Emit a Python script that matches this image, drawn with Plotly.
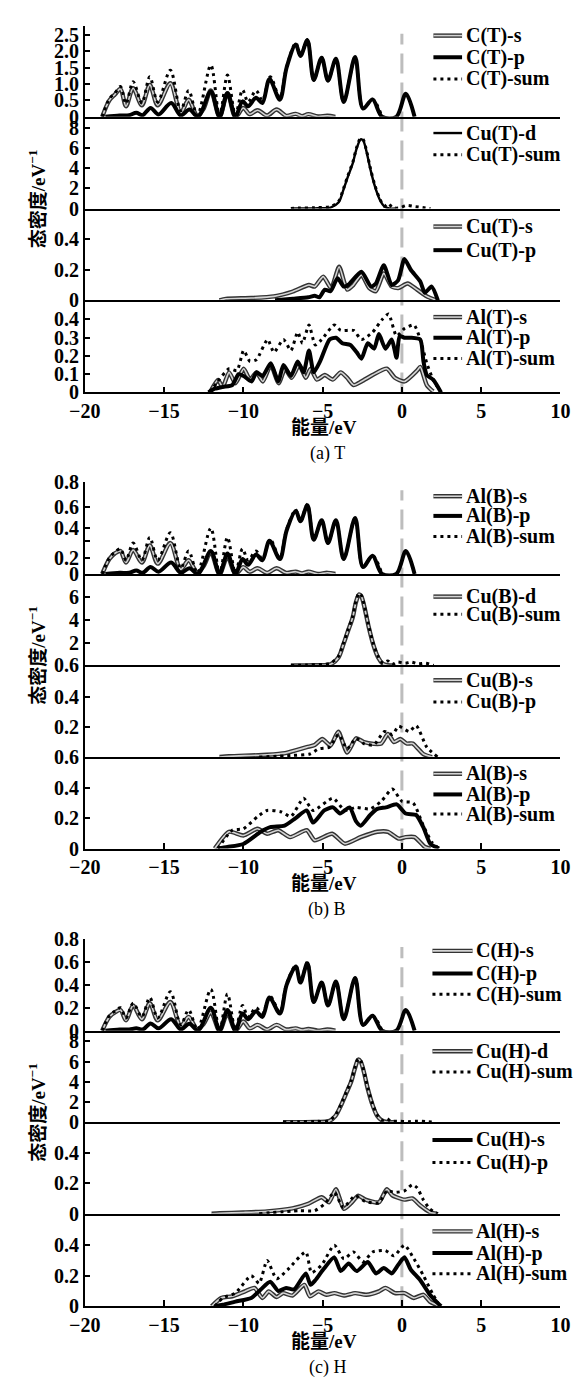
import plotly.graph_objects as go

# ---------------- DATA (energy in eV, DOS in 1/eV) ----------------
# (a) T
CT_s_x = [-18.9, -18.45, -18.1, -17.75, -17.4, -16.95, -16.4, -15.9, -15.4, -14.6, -13.95, -13.45, -12.9, -12.5, -12.05, -11.5, -11.0, -10.5, -10.0, -9.6, -9.1, -8.5, -7.9, -7.3, -6.7, -6.3, -5.9, -5.3, -4.7, -4.2]
CT_s_y = [0, 0.5, 0.68, 0.85, 0.32, 0.87, 0.35, 0.97, 0.35, 1.02, 0.12, 0.52, 0.02, 0.25, 0.8, 0.0, 0.72, 0.0, 0.27, 0.08, 0.2, 0.04, 0.22, 0.03, 0.09, 0.02, 0.08, 0.01, 0.03, 0]
CT_p_x = [-18.7, -17.8, -17.2, -16.75, -16.35, -15.85, -15.35, -14.55, -13.95, -13.4, -12.85, -12.05, -11.5, -11.0, -10.5, -10.05, -9.7, -9.2, -8.8, -8.35, -7.7, -7.27, -6.69, -6.4, -5.96, -5.56, -5.06, -4.66, -4.16, -3.67, -2.95, -2.45, -1.85, -1.25, -0.35, 0.25, 0.8]
CT_p_y = [0, 0.04, 0.05, 0.12, 0.05, 0.27, 0.07, 0.42, 0.04, 0.22, 0.0, 0.77, 0.0, 0.72, 0.0, 0.47, 0.32, 0.58, 0.42, 1.15, 0.52, 1.5, 2.2, 1.85, 2.33, 1.12, 1.8, 1.1, 1.77, 0.45, 1.82, 0.25, 0.53, 0.0, 0.0, 0.7, 0.0]
CT_sum_x = [-18.9, -18.45, -18.1, -17.75, -17.4, -16.95, -16.4, -15.9, -15.4, -14.6, -13.95, -13.45, -12.9, -12.05, -11.5, -11.0, -10.5, -10.05, -9.7, -9.2, -8.8, -8.3, -7.7, -7.27, -6.69, -6.4, -5.96, -5.56, -5.06, -4.66, -4.16, -3.67, -2.95, -2.45, -1.85, -1.25]
CT_sum_y = [0, 0.55, 0.72, 0.92, 0.4, 1.07, 0.42, 1.22, 0.45, 1.42, 0.18, 0.8, 0.04, 1.57, 0.02, 1.27, 0.05, 0.82, 0.45, 0.8, 0.5, 1.22, 0.58, 1.52, 2.25, 1.85, 2.35, 1.12, 1.8, 1.1, 1.77, 0.45, 1.82, 0.25, 0.53, 0]

CuT_d_x = [-7.0, -5.5, -4.5, -4.0, -3.7, -3.4, -3.1, -2.85, -2.6, -2.45, -2.25, -2.0, -1.7, -1.4, -1.1, -0.8, -0.4]
CuT_d_y = [0, 0.02, 0.1, 0.6, 1.8, 3.2, 4.5, 6.0, 6.9, 6.8, 5.8, 4.0, 2.2, 0.9, 0.2, 0.02, 0]
CuT_sum_x = [-7.0, -6.5, -5.5, -4.5, -4.0, -3.7, -3.4, -3.1, -2.85, -2.6, -2.45, -2.25, -2.0, -1.7, -1.4, -1.1, -0.85, -0.6, -0.2, 0.3, 0.8, 1.3, 1.8]
CuT_sum_y = [0, 0.05, 0.08, 0.2, 0.7, 1.9, 3.3, 4.6, 6.1, 7.0, 6.9, 5.9, 4.1, 2.3, 1.0, 0.25, 0.5, 0.1, 0.05, 0.3, 0.2, 0.1, 0]

CuT_s_x = [-11.5, -11.1, -9.5, -8.07, -6.87, -5.86, -5.5, -4.96, -4.46, -3.96, -3.45, -3.07, -2.55, -2.05, -1.64, -1.14, -0.64, -0.24, 0.36, 0.96, 1.57, 2.17]
CuT_s_y = [0, 0.01, 0.015, 0.026, 0.058, 0.10, 0.09, 0.155, 0.08, 0.22, 0.07, 0.10, 0.166, 0.08, 0.06, 0.176, 0.09, 0.08, 0.11, 0.07, 0.026, 0]
CuT_p_x = [-8.0, -6.87, -5.9, -5.5, -5.2, -4.86, -4.5, -4.06, -3.66, -3.4, -2.55, -1.95, -1.64, -1.14, -0.64, -0.24, 0.16, 0.56, 1.16, 1.45, 1.87, 2.27]
CuT_p_y = [0, 0.01, 0.02, 0.03, 0.02, 0.07, 0.06, 0.144, 0.09, 0.10, 0.187, 0.09, 0.11, 0.23, 0.10, 0.13, 0.27, 0.2, 0.123, 0.05, 0.09, 0]

AlT_s_x = [-12.1, -11.6, -11.3, -10.9, -10.5, -9.98, -9.58, -9.17, -8.77, -8.27, -7.77, -7.37, -6.96, -6.47, -6.06, -5.76, -5.36, -4.86, -4.36, -3.86, -3.45, -3.05, -2.55, -1.85, -0.95, -0.44, 0.16, 0.96, 1.16, 1.57, 1.97]
AlT_s_y = [0, 0.068, 0.03, 0.11, 0.05, 0.13, 0.07, 0.11, 0.06, 0.15, 0.05, 0.13, 0.08, 0.15, 0.08, 0.13, 0.07, 0.095, 0.07, 0.11, 0.08, 0.04, 0.06, 0.095, 0.13, 0.08, 0.06, 0.12, 0.14, 0.04, 0.005]
AlT_p_x = [-12.2, -11.8, -11.3, -10.7, -10.3, -9.98, -9.48, -9.17, -8.78, -8.27, -7.8, -7.47, -7.0, -6.57, -6.2, -5.86, -5.56, -5.16, -4.56, -4.16, -3.76, -3.25, -2.85, -2.55, -2.15, -1.75, -1.45, -1.04, -0.64, -0.34, -0.14, 0.16, 0.56, 1.16, 1.36, 1.57, 1.97, 2.47]
AlT_p_y = [0, 0.02, 0.03, 0.04, 0.1, 0.09, 0.06, 0.11, 0.09, 0.16, 0.06, 0.15, 0.09, 0.17, 0.11, 0.23, 0.11, 0.17, 0.29, 0.30, 0.27, 0.26, 0.22, 0.185, 0.27, 0.24, 0.32, 0.24, 0.29, 0.19, 0.31, 0.30, 0.30, 0.29, 0.17, 0.095, 0.07, 0]
AlT_sum_x = [-12.1, -11.7, -10.9, -10.4, -9.98, -9.58, -9.17, -8.47, -8.07, -7.47, -7.0, -6.57, -6.27, -5.86, -5.46, -5.06, -4.26, -3.86, -3.05, -2.55, -1.85, -1.24, -0.84, -0.34, 0.16, 0.76, 1.16, 1.57, 1.97, 2.47]
AlT_sum_y = [0, 0.05, 0.13, 0.12, 0.23, 0.17, 0.18, 0.29, 0.22, 0.29, 0.23, 0.33, 0.27, 0.37, 0.26, 0.29, 0.37, 0.34, 0.34, 0.29, 0.33, 0.40, 0.43, 0.31, 0.35, 0.37, 0.29, 0.16, 0.07, 0]

# (b) B
AlB1_s_x = CT_s_x
AlB1_s_y = [0, 0.13, 0.18, 0.2, 0.1, 0.21, 0.1, 0.25, 0.09, 0.27, 0.04, 0.12, 0.01, 0.07, 0.19, 0.0, 0.15, 0.0, 0.06, 0.02, 0.05, 0.01, 0.05, 0.01, 0.02, 0.005, 0.02, 0.0, 0.01, 0]
AlB1_p_x = CT_p_x
AlB1_p_y = [0, 0.01, 0.01, 0.03, 0.01, 0.06, 0.02, 0.1, 0.01, 0.05, 0.0, 0.2, 0.0, 0.18, 0.0, 0.13, 0.08, 0.17, 0.12, 0.29, 0.13, 0.38, 0.55, 0.46, 0.6, 0.3, 0.47, 0.27, 0.47, 0.13, 0.49, 0.06, 0.16, 0.0, 0.0, 0.2, 0.0]
AlB1_sum_x = CT_sum_x
AlB1_sum_y = [0, 0.14, 0.19, 0.22, 0.12, 0.27, 0.12, 0.32, 0.12, 0.36, 0.05, 0.2, 0.01, 0.4, 0.0, 0.32, 0.01, 0.22, 0.12, 0.2, 0.13, 0.3, 0.14, 0.39, 0.56, 0.46, 0.61, 0.3, 0.47, 0.27, 0.47, 0.13, 0.49, 0.06, 0.16, 0]

CuB_d_x = [-7.0, -5.5, -4.5, -4.0, -3.7, -3.4, -3.1, -2.9, -2.7, -2.55, -2.35, -2.1, -1.8, -1.5, -1.2, -0.9, -0.5]
CuB_d_y = [0, 0.02, 0.1, 0.7, 1.8, 3.0, 4.2, 5.5, 6.2, 6.0, 5.0, 3.4, 1.8, 0.7, 0.15, 0.02, 0]
CuB_sum_x = [-7.0, -6.0, -5.0, -4.5, -4.0, -3.7, -3.4, -3.1, -2.9, -2.7, -2.55, -2.35, -2.1, -1.8, -1.5, -1.2, -0.9, -0.6, -0.3, 0.2, 0.6, 1.0, 1.5, 2.0]
CuB_sum_y = [0, 0.05, 0.1, 0.2, 0.8, 1.9, 3.1, 4.3, 5.6, 6.3, 6.1, 5.1, 3.5, 1.9, 0.8, 0.2, 0.4, 0.1, 0.3, 0.2, 0.3, 0.15, 0.2, 0]

CuB_s_x = [-11.5, -10.9, -8.5, -7.36, -6.0, -5.5, -5.02, -4.5, -4.01, -3.45, -2.89, -2.4, -1.78, -1.3, -0.88, -0.5, -0.1, 0.3, 0.68, 1.35, 1.9]
CuB_s_y = [0, 0.005, 0.015, 0.026, 0.066, 0.08, 0.12, 0.077, 0.168, 0.03, 0.125, 0.1, 0.088, 0.09, 0.153, 0.1, 0.12, 0.09, 0.09, 0.02, 0]
CuB_p_x = [-9.0, -7.0, -5.8, -5.24, -4.57, -4.0, -3.45, -2.89, -2.4, -1.78, -1.1, -0.6, -0.2, 0.46, 0.9, 1.57, 2.25]
CuB_p_y = [0, 0.01, 0.02, 0.055, 0.066, 0.15, 0.055, 0.125, 0.09, 0.08, 0.17, 0.15, 0.205, 0.17, 0.21, 0.066, 0]

AlB_s_x = [-11.8, -10.9, -10.0, -9.1, -8.5, -7.8, -7.05, -6.0, -5.5, -4.4, -3.6, -2.6, -1.55, -0.88, -0.2, 0.24, 0.8, 1.46, 1.8]
AlB_s_y = [0, 0.11, 0.086, 0.13, 0.097, 0.12, 0.075, 0.12, 0.054, 0.097, 0.032, 0.075, 0.11, 0.11, 0.065, 0.075, 0.075, 0.01, 0]
AlB_p_x = [-11.6, -11.0, -10.0, -8.9, -8.3, -7.4, -6.7, -6.0, -5.6, -4.9, -4.35, -3.9, -3.3, -2.9, -2.6, -2.0, -1.55, -1.0, -0.33, 0.24, 0.9, 1.35, 1.8, 2.35]
AlB_p_y = [0, 0.01, 0.03, 0.11, 0.14, 0.15, 0.2, 0.25, 0.17, 0.25, 0.27, 0.23, 0.27, 0.18, 0.15, 0.22, 0.26, 0.27, 0.29, 0.23, 0.22, 0.14, 0.03, 0]
AlB_sum_x = [-11.6, -10.7, -10.0, -9.1, -8.5, -7.6, -7.0, -6.2, -5.6, -4.35, -3.6, -2.9, -2.0, -1.3, -0.6, 0.0, 0.7, 1.35, 1.9, 2.35]
AlB_sum_y = [0, 0.12, 0.13, 0.21, 0.25, 0.24, 0.21, 0.33, 0.25, 0.33, 0.25, 0.27, 0.26, 0.31, 0.39, 0.31, 0.3, 0.15, 0.04, 0]

# (c) H
CH_s_x = CT_s_x
CH_s_y = [0, 0.12, 0.16, 0.18, 0.09, 0.22, 0.1, 0.24, 0.09, 0.25, 0.04, 0.12, 0.01, 0.06, 0.16, 0.0, 0.15, 0.0, 0.08, 0.02, 0.05, 0.01, 0.05, 0.01, 0.02, 0.005, 0.015, 0.0, 0.01, 0]
CH_p_x = CT_p_x
CH_p_y = [0, 0.01, 0.01, 0.02, 0.01, 0.063, 0.02, 0.1, 0.01, 0.06, 0.0, 0.2, 0.0, 0.18, 0.0, 0.15, 0.1, 0.17, 0.12, 0.29, 0.15, 0.4, 0.56, 0.42, 0.59, 0.25, 0.42, 0.22, 0.43, 0.1, 0.46, 0.05, 0.13, 0.0, 0.0, 0.18, 0.0]
CH_sum_x = CT_sum_x
CH_sum_y = [0, 0.13, 0.17, 0.2, 0.11, 0.24, 0.12, 0.29, 0.11, 0.34, 0.05, 0.18, 0.01, 0.36, 0.0, 0.32, 0.01, 0.22, 0.12, 0.2, 0.15, 0.3, 0.16, 0.41, 0.57, 0.42, 0.6, 0.25, 0.42, 0.22, 0.43, 0.1, 0.46, 0.05, 0.13, 0]

CuH_d_x = [-7.5, -5.5, -4.6, -4.2, -3.8, -3.5, -3.2, -2.95, -2.75, -2.6, -2.4, -2.15, -1.85, -1.55, -1.25, -0.95, -0.5]
CuH_d_y = [0, 0.02, 0.1, 0.6, 1.8, 2.9, 4.0, 5.4, 6.2, 6.0, 5.0, 3.3, 1.7, 0.6, 0.15, 0.02, 0]
CuH_sum_x = [-7.5, -6.5, -5.5, -4.6, -4.2, -3.8, -3.5, -3.2, -2.95, -2.75, -2.6, -2.4, -2.15, -1.85, -1.55, -1.25, -0.95, -0.7, -0.3, 0.4, 1.0, 1.6, 2.0]
CuH_sum_y = [0, 0.05, 0.08, 0.15, 0.7, 1.9, 3.0, 4.1, 5.5, 6.3, 6.1, 5.1, 3.4, 1.8, 0.7, 0.2, 0.35, 0.1, 0.1, 0.05, 0.1, 0.05, 0]

CuH_s_x = [-12.0, -11.5, -10.0, -8.5, -6.9, -5.9, -5.06, -4.6, -4.16, -3.66, -3.2, -2.75, -2.3, -1.45, -0.95, -0.6, -0.34, 0.16, 0.66, 1.16, 1.77, 2.2]
CuH_s_y = [0, 0.003, 0.008, 0.015, 0.035, 0.065, 0.108, 0.075, 0.16, 0.032, 0.07, 0.118, 0.092, 0.075, 0.16, 0.12, 0.108, 0.092, 0.1, 0.054, 0.01, 0]
CuH_p_x = [-9.0, -6.5, -5.5, -4.86, -4.26, -3.7, -2.95, -2.3, -1.45, -0.95, -0.44, 0.16, 0.66, 0.96, 1.36, 1.77, 2.27]
CuH_p_y = [0, 0.02, 0.02, 0.065, 0.14, 0.04, 0.118, 0.08, 0.07, 0.15, 0.14, 0.15, 0.19, 0.17, 0.09, 0.03, 0]

AlH_s_x = [-12.0, -11.4, -10.7, -9.9, -9.3, -8.8, -8.4, -7.9, -7.5, -6.9, -6.15, -5.8, -5.26, -4.76, -4.26, -3.66, -2.95, -2.25, -1.45, -1.04, -0.44, 0.16, 0.76, 1.36, 1.77, 2.17, 2.4]
AlH_s_y = [0, 0.054, 0.065, 0.097, 0.12, 0.054, 0.097, 0.06, 0.086, 0.07, 0.14, 0.065, 0.097, 0.075, 0.086, 0.07, 0.086, 0.075, 0.097, 0.12, 0.086, 0.086, 0.054, 0.075, 0.03, 0.01, 0]
AlH_p_x = [-11.8, -11.3, -10.5, -9.5, -8.9, -8.3, -7.8, -7.3, -6.8, -6.06, -5.76, -5.46, -4.96, -4.26, -3.86, -3.36, -2.85, -2.15, -1.64, -1.14, -0.64, -0.24, 0.16, 0.56, 1.16, 1.77, 2.17, 2.47]
AlH_p_y = [0, 0.01, 0.03, 0.054, 0.11, 0.16, 0.1, 0.12, 0.11, 0.215, 0.14, 0.17, 0.24, 0.32, 0.23, 0.28, 0.23, 0.29, 0.215, 0.25, 0.215, 0.27, 0.32, 0.24, 0.17, 0.075, 0.03, 0]
AlH_sum_x = [-11.8, -11.3, -10.5, -9.5, -9.0, -8.5, -7.9, -7.2, -6.06, -5.7, -5.06, -4.26, -3.66, -3.05, -2.45, -1.85, -1.04, -0.5, 0.16, 0.76, 1.36, 1.97, 2.4]
AlH_sum_y = [0, 0.054, 0.086, 0.2, 0.15, 0.3, 0.18, 0.24, 0.355, 0.22, 0.27, 0.40, 0.31, 0.355, 0.29, 0.355, 0.365, 0.33, 0.40, 0.31, 0.2, 0.075, 0]

X_TICKS = [-20, -15, -10, -5, 0, 5, 10]
X_TICK_TEXT = ["\u221220", "\u221215", "\u221210", "\u22125", "0", "5", "10"]

# panel y-axes: range max, tick values, tick texts
Y_MAX = [2.77, 9.14, 0.60, 0.505, 0.8, 7.98, 0.61, 0.60, 0.8, 9.07, 0.60, 0.606]
Y_TV = [[0, 0.5, 1, 1.5, 2, 2.5, 2.77], [0, 2, 4, 6, 8], [0, 0.2, 0.4], [0, 0.1, 0.2, 0.3, 0.4],
        [0, 0.138, 0.292, 0.404, 0.585, 0.8], [0, 2, 4, 6], [0, 0.2, 0.4], [0, 0.2, 0.4],
        [0, 0.2, 0.4, 0.6, 0.8], [0, 2, 4, 6, 8], [0, 0.2, 0.4], [0, 0.2, 0.4]]
Y_TT = [["0", "0.5", "1.0", "1.5", "2.0", "2.5", " "], ["0", "2", "4", "6", "8"], ["0", "0.2", "0.4"], ["0", "0.1", "0.2", "0.3", "0.4"],
        ["0", "0.2", " ", "0.4", "0.6", "0.8"], ["0.6", "2", "4", "6"], ["0.6", "0.2", "0.4"], ["0", "0.2", "0.4"],
        ["0", "0.2", "0.4", "0.6", "0.8"], ["0", "2", "4", "6", "8"], ["0", "0.2", "0.4"], ["0", "0.2", "0.4"]]

SERIES = [
    (0, CT_s_x, CT_s_y, "outline"), (0, CT_p_x, CT_p_y, "thick"), (0, CT_sum_x, CT_sum_y, "dot"),
    (1, CuT_d_x, CuT_d_y, "thin"), (1, CuT_sum_x, CuT_sum_y, "dot"),
    (2, CuT_s_x, CuT_s_y, "outline"), (2, CuT_p_x, CuT_p_y, "thick"),
    (3, AlT_s_x, AlT_s_y, "outline"), (3, AlT_p_x, AlT_p_y, "thick"), (3, AlT_sum_x, AlT_sum_y, "dot"),
    (4, AlB1_s_x, AlB1_s_y, "outline"), (4, AlB1_p_x, AlB1_p_y, "thick"), (4, AlB1_sum_x, AlB1_sum_y, "dot"),
    (5, CuB_d_x, CuB_d_y, "outline"), (5, CuB_sum_x, CuB_sum_y, "dot"),
    (6, CuB_s_x, CuB_s_y, "outline"), (6, CuB_p_x, CuB_p_y, "dot"),
    (7, AlB_s_x, AlB_s_y, "outline"), (7, AlB_p_x, AlB_p_y, "thick"), (7, AlB_sum_x, AlB_sum_y, "dot"),
    (8, CH_s_x, CH_s_y, "outline"), (8, CH_p_x, CH_p_y, "thick"), (8, CH_sum_x, CH_sum_y, "dot"),
    (9, CuH_d_x, CuH_d_y, "outline"), (9, CuH_sum_x, CuH_sum_y, "dot"),
    (10, CuH_s_x, CuH_s_y, "outline"), (10, CuH_p_x, CuH_p_y, "dot"),
    (11, AlH_s_x, AlH_s_y, "outline"), (11, AlH_p_x, AlH_p_y, "thick"), (11, AlH_sum_x, AlH_sum_y, "dot"),
]

LEGENDS = [
    (["C(T)-s", "C(T)-p", "C(T)-sum"], ["outline", "thick", "dot"]),
    (["Cu(T)-d", "Cu(T)-sum"], ["thin", "dot"]),
    (["Cu(T)-s", "Cu(T)-p"], ["outline", "thick"]),
    (["Al(T)-s", "Al(T)-p", "Al(T)-sum"], ["outline", "thick", "dot"]),
    (["Al(B)-s", "Al(B)-p", "Al(B)-sum"], ["outline", "thick", "dot"]),
    (["Cu(B)-d", "Cu(B)-sum"], ["outline", "dot"]),
    (["Cu(B)-s", "Cu(B)-p"], ["outline", "dot"]),
    (["Al(B)-s", "Al(B)-p", "Al(B)-sum"], ["outline", "thick", "dot"]),
    (["C(H)-s", "C(H)-p", "C(H)-sum"], ["outline", "thick", "dot"]),
    (["Cu(H)-d", "Cu(H)-sum"], ["outline", "dot"]),
    (["Cu(H)-s", "Cu(H)-p"], ["thick", "dot"]),
    (["Al(H)-s", "Al(H)-p", "Al(H)-sum"], ["outline", "thick", "dot"]),
]
CAPTIONS = ["(a) T", "(b) B", "(c) H"]

# ---------------- LAYOUT GEOMETRY (pixels) ----------------
W, H = 580, 1393
PX_L, PX_R = 72, 570
PANEL_TOP = [15, 107.5, 200.7, 294, 479, 572, 665, 758, 943, 1036, 1129, 1222]
PANEL_BOT = [107.5, 200.7, 294, 387.5, 572, 665, 758, 851, 1036, 1129, 1222, 1316]
LEG_Y = [[25, 47, 69], [124, 146], [219, 243], [311, 332, 353],
         [493, 513, 534], [595, 613], [680, 702], [775, 796, 816],
         [955, 978, 999], [1057, 1078], [1147, 1170], [1240, 1262, 1283]]
SERIF = "Liberation Serif, Noto Sans CJK SC"
FS = 20

def px(x):
    return x / W

def py(y):
    return 1 - y / H

fig = go.Figure()

STY = {
    "thick": [dict(color="black", width=4)],
    "thin": [dict(color="black", width=2.4)],
    "dot": [dict(color="black", width=3, dash="3px,4px")],
    "outline": [dict(color="#333333", width=4.4), dict(color="#d4d4d4", width=1.6)],
}

for k, x, y, st in SERIES:
    smooth = 0.9 if k in (0, 4, 8, 1, 5, 9) else 0.6
    for ln in STY[st]:
        l = dict(ln)
        l["shape"] = "spline"
        l["smoothing"] = smooth
        fig.add_trace(go.Scatter(x=x, y=y, mode="lines", line=l, showlegend=False,
                                 hoverinfo="skip",
                                 xaxis="x" if k == 0 else f"x{k+1}",
                                 yaxis="y" if k == 0 else f"y{k+1}"))

layout = dict(width=W, height=H, margin=dict(l=0, r=0, t=0, b=0),
              paper_bgcolor="white", plot_bgcolor="white", showlegend=False)
tickfont = dict(family=SERIF, size=FS, color="black", weight="bold")
for k in range(12):
    bottom = (k % 4 == 3)
    xa = dict(domain=[px(PX_L), px(PX_R)], range=[-20, 10], anchor=f"y{k+1}",
              showline=True, linecolor="black", linewidth=1.5, showgrid=False, zeroline=False,
              tickvals=X_TICKS, ticktext=X_TICK_TEXT, ticks="inside" if bottom else "",
              ticklen=6, tickwidth=1.5, tickcolor="black", showticklabels=bottom, tickfont=tickfont)
    ya = dict(domain=[py(PANEL_BOT[k]), py(PANEL_TOP[k])], range=[0, Y_MAX[k]], anchor=f"x{k+1}",
              showline=True, linecolor="black", linewidth=1.5, showgrid=False, zeroline=False,
              tickvals=Y_TV[k], ticktext=Y_TT[k], ticks="inside", ticklen=5, tickwidth=1.5,
              tickcolor="black", tickfont=tickfont)
    layout["xaxis" if k == 0 else f"xaxis{k+1}"] = xa
    layout["yaxis" if k == 0 else f"yaxis{k+1}"] = ya
fig.update_layout(**layout)

shapes = []
annotations = []
for g in range(3):
    # Fermi level dashed line
    shapes.append(dict(type="line", xref=f"x{4*g+4}", yref="paper", x0=0, x1=0,
                       y0=py(PANEL_BOT[4*g+3]), y1=py(PANEL_TOP[4*g] + 8),
                       line=dict(color="#bdbdbd", width=3, dash="20px,9px"), layer="below"))
    zero = PANEL_BOT[4*g+3]
    annotations.append(dict(text="能量/eV", x=px(322), y=py(zero + 36), xref="paper", yref="paper",
                            xanchor="center", yanchor="middle",
                            showarrow=False, font=dict(family=SERIF, size=FS - 1, color="black", weight="bold")))
    annotations.append(dict(text=CAPTIONS[g], x=px(326), y=py(zero + 62), xref="paper", yref="paper",
                            xanchor="center", yanchor="middle",
                            showarrow=False, font=dict(family=SERIF, size=FS - 2, color="black")))
    mid = (PANEL_TOP[4*g] + PANEL_BOT[4*g+3]) / 2
    annotations.append(dict(text="态密度/eV<sup>\u22121</sup>", x=px(22), y=py(mid - 10), xref="paper", yref="paper",
                            xanchor="center", yanchor="middle",
                            textangle=-90, showarrow=False,
                            font=dict(family=SERIF, size=FS - 1, color="black", weight="bold")))

for k, (labels, styles) in enumerate(LEGENDS):
    grp_c = k >= 8
    tx = 480 if grp_c else 469
    sx0, sx1 = (436, 478) if grp_c else (437, 467)
    for lab, st, yy in zip(labels, styles, LEG_Y[k]):
        for ln in STY[st]:
            l = dict(ln)
            shapes.append(dict(type="line", xref="paper", yref="paper", x0=px(sx0), x1=px(sx1),
                               y0=py(yy), y1=py(yy), line=l))
        annotations.append(dict(text=lab, x=px(tx), y=py(yy), xref="paper", yref="paper",
                                xanchor="left", yanchor="middle", showarrow=False,
                                font=dict(family=SERIF, size=FS, color="black", weight="bold")))

fig.update_layout(shapes=shapes, annotations=annotations)
fig.write_html("out.html")
